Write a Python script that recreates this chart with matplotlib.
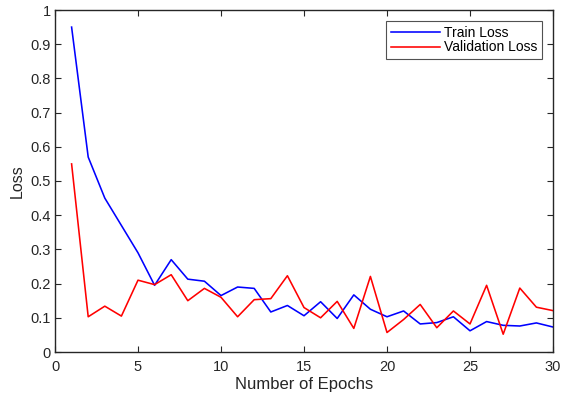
import matplotlib
matplotlib.use("Agg")
import matplotlib.pyplot as plt

plt.rcParams['font.family'] = ['Liberation Sans', 'DejaVu Sans']

epochs = list(range(1, 31))
train_loss = [0.95, 0.57, 0.45, 0.37, 0.29, 0.195, 0.27, 0.213, 0.207, 0.165,
              0.19, 0.186, 0.117, 0.136, 0.106, 0.147, 0.098, 0.167, 0.125, 0.103,
              0.12, 0.082, 0.086, 0.103, 0.062, 0.089, 0.078, 0.076, 0.085, 0.073]
val_loss = [0.55, 0.103, 0.134, 0.105, 0.21, 0.197, 0.226, 0.15, 0.186, 0.16,
            0.103, 0.153, 0.156, 0.223, 0.13, 0.1, 0.148, 0.069, 0.221, 0.057,
            0.095, 0.139, 0.071, 0.12, 0.082, 0.195, 0.052, 0.187, 0.131, 0.121]

xticks = [0, 5, 10, 15, 20, 25, 30]
yticks = [0, 0.1, 0.2, 0.3, 0.4, 0.5, 0.6, 0.7, 0.8, 0.9, 1]
ytick_labels = ['0', '0.1', '0.2', '0.3', '0.4', '0.5', '0.6', '0.7', '0.8', '0.9', '1']

dark = '#262626'
fig = plt.figure(figsize=(5.65, 4.03), dpi=100)
ax = fig.add_axes([55 / 565, 1 - 352 / 403, (553 - 55) / 565, (352 - 10) / 403])

ax.plot(epochs, train_loss, color='#0000ff', lw=1.15, label='Train Loss')
ax.plot(epochs, val_loss, color='#ff0000', lw=1.15, label='Validation Loss')

ax.set_xlim(0, 30)
ax.set_ylim(0, 1)
ax.set_xticks(xticks)
ax.set_xticklabels([str(t) for t in xticks])
ax.set_yticks(yticks)
ax.set_yticklabels(ytick_labels)
ax.tick_params(direction='in', top=True, right=True, length=4, width=0.8,
               colors=dark, labelsize=10.5, labelcolor=dark)
ax.tick_params(axis='x', pad=6)
ax.tick_params(axis='y', pad=3)
for s in ax.spines.values():
    s.set_color(dark)
    s.set_linewidth(1.0)

ax.set_xlabel('Number of Epochs', fontsize=12, color=dark, labelpad=2)
ax.set_ylabel('Loss', fontsize=11.5, color=dark, labelpad=4)

leg = ax.legend(loc='upper right', fontsize=10, frameon=True, fancybox=False,
                edgecolor=dark, borderaxespad=0.0, bbox_to_anchor=(0.978, 0.968),
                handlelength=3.5, handletextpad=0.3, borderpad=0.35, labelspacing=0.05)
leg.get_frame().set_linewidth(0.8)
for t in leg.get_texts():
    t.set_color('black')

fig.savefig('out.png', dpi=100)
